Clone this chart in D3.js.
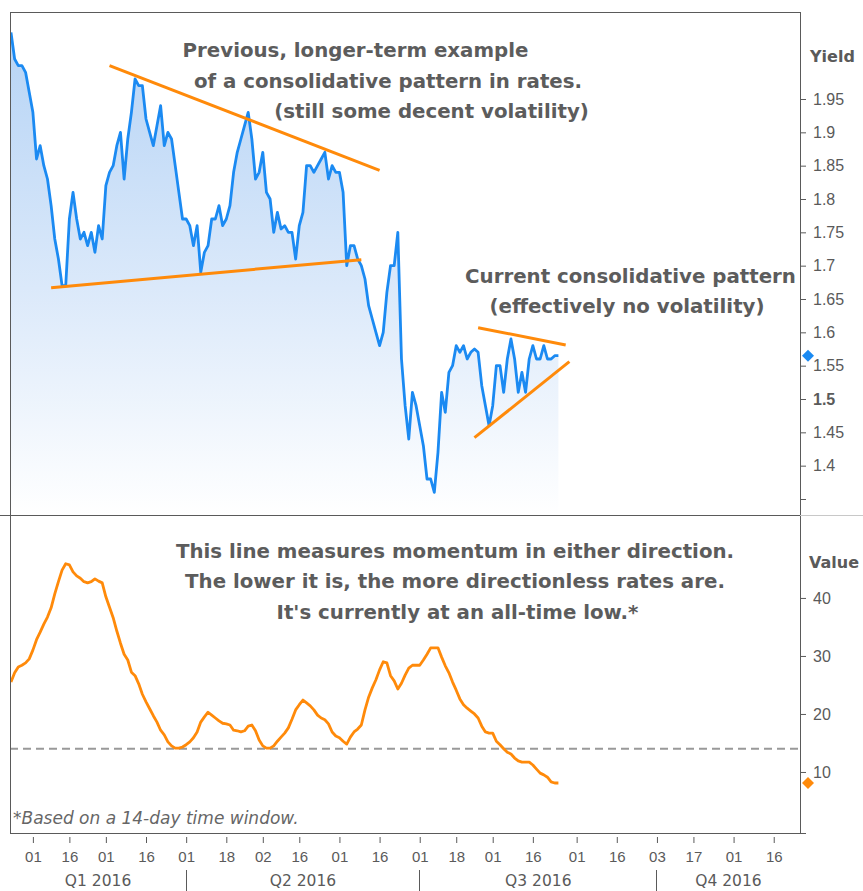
<!DOCTYPE html>
<html>
<head>
<meta charset="utf-8">
<script src="https://cdnjs.cloudflare.com/ajax/libs/d3/7.8.5/d3.min.js"></script>
<style>
  body { margin: 0; background: #fff; }
  svg { display: block; font-family: "DejaVu Sans", Verdana, sans-serif; }
</style>
</head>
<body>
<svg id="chart" width="863" height="891"></svg>
<script>
// days the market was closed, skipped by the time axis
var holidays = ["2016-01-01", "2016-01-18", "2016-02-15", "2016-03-25",
  "2016-05-30", "2016-07-04", "2016-11-24", "2016-12-26"];

// one value per trading day, starting at firstDay
var firstDay = "2016-01-22";

var yieldValues = [
  2.05, 2.01, 2.00, 2.00, 1.99, 1.96, 1.93, 1.86, 1.88, 1.85,
  1.83, 1.79, 1.74, 1.71, 1.67, 1.67, 1.77, 1.81, 1.77, 1.74,
  1.75, 1.73, 1.75, 1.72, 1.76, 1.74, 1.82, 1.84, 1.85, 1.88,
  1.90, 1.83, 1.89, 1.93, 1.98, 1.97, 1.97, 1.92, 1.90, 1.88,
  1.91, 1.94, 1.88, 1.90, 1.89, 1.85, 1.81, 1.77, 1.77, 1.76,
  1.73, 1.76, 1.69, 1.72, 1.73, 1.77, 1.77, 1.79, 1.76, 1.77,
  1.79, 1.84, 1.87, 1.89, 1.91, 1.93, 1.89, 1.83, 1.84, 1.87,
  1.81, 1.80, 1.75, 1.78, 1.755, 1.76, 1.75, 1.75, 1.71, 1.76,
  1.78, 1.85, 1.85, 1.84, 1.85, 1.86, 1.87, 1.83, 1.85, 1.84,
  1.84, 1.81, 1.70, 1.73, 1.73, 1.71, 1.70, 1.68, 1.64, 1.62,
  1.60, 1.58, 1.60, 1.66, 1.70, 1.70, 1.75, 1.56, 1.49, 1.44,
  1.51, 1.49, 1.46, 1.43, 1.38, 1.38, 1.36, 1.42, 1.51, 1.48,
  1.54, 1.55, 1.58, 1.57, 1.58, 1.56, 1.57, 1.575, 1.57, 1.52,
  1.49, 1.46, 1.49, 1.55, 1.55, 1.51, 1.56, 1.59, 1.56, 1.51,
  1.54, 1.51, 1.56, 1.58, 1.56, 1.56, 1.58, 1.56, 1.56, 1.565,
  1.565
];

var momentumValues = [
  25.5, 27.1, 28.1, 28.4, 28.8, 29.5, 31.0, 32.8, 34.1, 35.5,
  36.7, 38.3, 40.7, 42.8, 44.8, 45.9, 45.7, 44.5, 43.8, 43.4,
  42.8, 42.6, 42.8, 43.3, 42.9, 42.6, 40.2, 38.4, 36.6, 34.3,
  32.2, 30.3, 29.3, 27.2, 26.6, 25.2, 23.4, 22.1, 20.9, 19.7,
  18.6, 17.2, 16.4, 15.2, 14.5, 14.1, 14.1, 14.3, 14.7, 15.2,
  15.9, 16.9, 18.6, 19.5, 20.3, 19.8, 19.3, 18.8, 18.4, 18.3,
  18.1, 17.2, 17.1, 16.9, 17.1, 17.9, 18.1, 17.1, 15.5, 14.5,
  14.1, 14.1, 14.5, 15.3, 16.0, 16.7, 17.6, 19.1, 20.7, 21.6,
  22.4, 21.9, 21.4, 20.7, 19.8, 19.3, 19.0, 18.3, 16.9, 16.2,
  15.9, 15.3, 14.8, 16.0, 16.9, 17.4, 18.1, 20.7, 22.9, 24.5,
  25.9, 27.6, 29.0, 28.8, 26.6, 25.7, 24.3, 25.3, 26.7, 27.9,
  28.4, 28.4, 28.4, 29.3, 30.3, 31.4, 31.4, 31.4, 29.8, 28.3,
  27.1, 25.5, 24.1, 22.6, 21.6, 21.0, 20.5, 20.0, 19.3, 17.9,
  16.9, 16.7, 16.7, 15.3, 14.7, 14.0, 13.4, 13.1, 12.4, 11.9,
  11.7, 11.7, 11.7, 11.2, 10.5, 9.8, 9.5, 9.1, 8.3, 8.1,
  8.1
];

var momentumFloor = 14; // dashed reference line

var yieldTicks = [1.35, 1.4, 1.45, 1.5, 1.55, 1.6, 1.65, 1.7, 1.75, 1.8, 1.85, 1.9, 1.95];
var valueTicks = [10, 20, 30, 40];
var dayTicks = ["2016-02-01", "2016-02-16", "2016-03-01", "2016-03-16", "2016-04-01",
  "2016-04-18", "2016-05-02", "2016-05-16", "2016-06-01", "2016-06-16", "2016-07-01",
  "2016-07-18", "2016-08-01", "2016-08-16", "2016-09-01", "2016-09-16", "2016-10-03",
  "2016-10-17", "2016-11-01", "2016-11-16"];
var quarterLabels = ["Q1 2016", "Q2 2016", "Q3 2016", "Q4 2016"];
var quarterStarts = ["2016-04-01", "2016-07-01", "2016-10-03"];

// hand drawn trend lines: [date, yield]
var oldResistance = [["2016-03-02", 2.0], ["2016-06-16", 1.843]];
var oldSupport = [["2016-02-08", 1.667], ["2016-06-09", 1.709]];
var newResistance = [["2016-07-26", 1.607], ["2016-08-29", 1.581]];
var newSupport = [["2016-07-25", 1.442], ["2016-08-30", 1.556]];

var notesTop = ["Previous, longer-term example", "of a consolidative pattern in rates.",
  "(still some decent volatility)"];
var notesRight = ["Current consolidative pattern", "(effectively no volatility)"];
var notesBottom = ["This line measures momentum in either direction.",
  "The lower it is, the more directionless rates are.",
  "It's currently at an all-time low.*"];
var footnote = "*Based on a 14-day time window.";

var blue = "#1b8af2", orange = "#ff8a0a", grey = "#5a5a5a";

// ---- trading day calendar ----
var fmt = d3.timeFormat("%Y-%m-%d");
var tradingDays = d3.timeDay.range(new Date(2016, 0, 1), new Date(2017, 0, 1))
  .filter(function(d) {
    return d.getDay() != 0 && d.getDay() != 6 && holidays.indexOf(fmt(d)) < 0;
  });
var dayIndex = {};
tradingDays.forEach(function(d, i) { dayIndex[fmt(d)] = i; });
function ti(s) { return dayIndex[s]; }

var plotLeft = 10, plotRight = 800, plotTop = 12, plotMid = 515, plotBottom = 833;

var x = d3.scaleLinear()
  .domain([ti("2016-01-21") + 0.73, ti("2016-11-28") + 0.2])
  .range([plotLeft, plotRight]);
var yUp = d3.scaleLinear().domain([1.326, 2.0805]).range([plotMid, plotTop]);
var yLow = d3.scaleLinear().domain([-0.52, 54.3]).range([plotBottom, plotMid]);

var start = ti(firstDay);
var yieldData = yieldValues.map(function(v, i) { return { t: start + i, v: v }; });
var momentumData = momentumValues.map(function(v, i) { return { t: start + i, v: v }; });

var svg = d3.select("#chart");

var defs = svg.append("defs");
var grad = defs.append("linearGradient").attr("id", "fillGrad")
  .attr("gradientUnits", "userSpaceOnUse")
  .attr("x1", 0).attr("x2", 0).attr("y1", plotTop).attr("y2", plotMid);
grad.append("stop").attr("offset", 0).attr("stop-color", "#b3d2f5");
grad.append("stop").attr("offset", 0.55).attr("stop-color", "#dbe9fa");
grad.append("stop").attr("offset", 1).attr("stop-color", "#ffffff");

defs.append("clipPath").attr("id", "clipUp").append("rect")
  .attr("x", plotLeft).attr("y", plotTop)
  .attr("width", plotRight - plotLeft).attr("height", plotMid - plotTop);
defs.append("clipPath").attr("id", "clipLow").append("rect")
  .attr("x", plotLeft).attr("y", plotMid)
  .attr("width", plotRight - plotLeft).attr("height", plotBottom - plotMid);

// ---- upper panel: yield ----
var gUp = svg.append("g").attr("clip-path", "url(#clipUp)");

gUp.append("path").datum(yieldData)
  .attr("fill", "url(#fillGrad)")
  .attr("d", d3.area()
    .x(function(d) { return x(d.t); })
    .y0(plotMid)
    .y1(function(d) { return yUp(d.v); }));

gUp.append("path").datum(yieldData)
  .attr("fill", "none")
  .attr("stroke", blue)
  .attr("stroke-width", 2.8)
  .attr("stroke-linejoin", "round")
  .attr("d", d3.line()
    .x(function(d) { return x(d.t); })
    .y(function(d) { return yUp(d.v); }));

[oldResistance, oldSupport, newResistance, newSupport].forEach(function(seg) {
  gUp.append("line")
    .attr("x1", x(ti(seg[0][0]))).attr("y1", yUp(seg[0][1]))
    .attr("x2", x(ti(seg[1][0]))).attr("y2", yUp(seg[1][1]))
    .attr("stroke", orange).attr("stroke-width", 3);
});

// ---- lower panel: momentum ----
var gLow = svg.append("g").attr("clip-path", "url(#clipLow)");

gLow.append("line")
  .attr("x1", plotLeft).attr("x2", plotRight)
  .attr("y1", yLow(momentumFloor)).attr("y2", yLow(momentumFloor))
  .attr("stroke", "#999").attr("stroke-width", 2)
  .attr("stroke-dasharray", "8,5");

gLow.append("path").datum(momentumData)
  .attr("fill", "none")
  .attr("stroke", orange)
  .attr("stroke-width", 2.8)
  .attr("stroke-linejoin", "round")
  .attr("d", d3.line()
    .x(function(d) { return x(d.t); })
    .y(function(d) { return yLow(d.v); }));

// ---- frame ----
var frame = svg.append("g").attr("stroke", "#5a5a5a").attr("stroke-width", 1)
  .attr("shape-rendering", "crispEdges");
frame.append("line").attr("x1", plotLeft).attr("x2", plotRight)
  .attr("y1", plotTop).attr("y2", plotTop);
frame.append("line").attr("x1", plotLeft).attr("x2", plotLeft)
  .attr("y1", plotTop).attr("y2", plotBottom);
frame.append("line").attr("x1", plotRight).attr("x2", plotRight)
  .attr("y1", plotTop).attr("y2", plotBottom);
frame.append("line").attr("x1", plotLeft).attr("x2", plotRight + 6)
  .attr("y1", plotBottom).attr("y2", plotBottom);
frame.append("line").attr("x1", 0).attr("x2", plotRight)
  .attr("y1", plotMid).attr("y2", plotMid);
svg.append("line").attr("x1", plotRight).attr("x2", 863)
  .attr("y1", plotMid).attr("y2", plotMid)
  .attr("stroke", "#c8c8c8").attr("shape-rendering", "crispEdges");

// ---- right axes ----
function styleAxis(g, size) {
  g.select(".domain").remove();
  g.selectAll(".tick line").attr("stroke", "#5a5a5a");
  g.selectAll(".tick text").attr("fill", grey).style("font-size", size);
}

var axUp = svg.append("g").attr("transform", "translate(" + plotRight + ",0)")
  .call(d3.axisRight(yUp).tickValues(yieldTicks).tickSize(6).tickPadding(7)
    .tickFormat(function(d) { return d < 1.36 ? "" : String(+d.toFixed(2)); }))
  .call(styleAxis, "16px");
axUp.selectAll(".tick text")
  .style("font-weight", function(d) { return d == 1.5 ? "bold" : "normal"; });

svg.append("g").attr("transform", "translate(" + plotRight + ",0)")
  .call(d3.axisRight(yLow).tickValues(valueTicks).tickSize(6).tickPadding(7))
  .call(styleAxis, "16px");

svg.append("text").attr("x", 810).attr("y", 62).text("Yield")
  .attr("fill", grey).style("font-weight", "bold").style("font-size", "16px");
svg.append("text").attr("x", 809).attr("y", 568).text("Value")
  .attr("fill", grey).style("font-weight", "bold").style("font-size", "16px");

// last value markers
var diamond = d3.symbol().type(d3.symbolSquare).size(72);
svg.append("path").attr("d", diamond)
  .attr("transform", "translate(808," + yUp(yieldValues[yieldValues.length - 1]) + ") rotate(45)")
  .attr("fill", blue);
svg.append("path").attr("d", diamond)
  .attr("transform", "translate(808," + yLow(momentumValues[momentumValues.length - 1]) + ") rotate(45)")
  .attr("fill", orange);

// ---- time axis ----
svg.append("g").attr("transform", "translate(0," + (plotBottom + 4) + ")")
  .call(d3.axisBottom(x).tickValues(dayTicks.map(ti)).tickSize(6).tickPadding(8)
    .tickFormat(function(i) { return d3.timeFormat("%d")(tradingDays[i]); }))
  .call(styleAxis, "15px");

var bounds = [plotLeft].concat(quarterStarts.map(function(s) { return x(ti(s)); }), [plotRight]);
svg.append("g").selectAll("line").data(quarterStarts).enter().append("line")
  .attr("x1", function(s) { return x(ti(s)); })
  .attr("x2", function(s) { return x(ti(s)); })
  .attr("y1", 870).attr("y2", 891)
  .attr("stroke", "#5a5a5a").attr("shape-rendering", "crispEdges");
svg.append("g").selectAll("text").data(quarterLabels).enter().append("text")
  .attr("x", function(d, i) { return (bounds[i] + bounds[i + 1]) / 2; })
  .attr("y", 886)
  .attr("text-anchor", "middle")
  .attr("fill", grey).style("font-size", "15.5px")
  .text(function(d) { return d; });

// ---- notes ----
function notes(lines, xs, ys) {
  svg.append("g").selectAll("text").data(lines).enter().append("text")
    .attr("x", function(d, i) { return xs[i]; })
    .attr("y", function(d, i) { return ys[i]; })
    .attr("text-anchor", "middle")
    .attr("fill", "#5c5c5c")
    .style("font-weight", "bold").style("font-size", "19.8px")
    .text(function(d) { return d; });
}
notes(notesTop, [355.5, 388, 431.5], [57, 88, 118]);
notes(notesRight, [630.5, 627], [283, 313]);
notes(notesBottom, [455, 455, 457.5], [558, 588, 619]);

svg.append("text").attr("x", 13).attr("y", 824).text(footnote)
  .attr("fill", "#666").style("font-style", "italic").style("font-size", "17px");
</script>
</body>
</html>
